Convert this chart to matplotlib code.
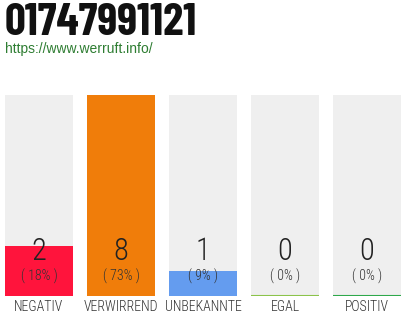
import matplotlib.pyplot as plt
from matplotlib import font_manager
import matplotlib.transforms as mtransforms

# data
categories = ['NEGATIV', 'VERWIRREND', 'UNBEKANNTE', 'EGAL', 'POSITIV']
counts = [2, 8, 1, 0, 0]
colors = ['#FF143C', '#F07D0A', '#649CEF', '#8BC34A', '#2EA84A']
title = '01747991121'
url = 'https://www.werruft.info/'

fonts = font_manager.fontManager.ttflist


def pick(cands, min_weight=0):
    for c in cands:
        for f in fonts:
            if f.name == c and int(f.weight) >= min_weight:
                return c
    return 'DejaVu Sans'


head_font = pick(['Oswald', 'Barlow Condensed', 'Roboto Condensed'], 700)
body_font = pick(['Roboto Condensed', 'Barlow Condensed', 'Archivo Narrow'])

total = sum(counts)
top = max(counts)

fig = plt.figure(figsize=(4.1, 3.2), dpi=100)
ax = fig.add_axes([5 / 410, 24 / 320, 396 / 410, 201 / 320])

w = 68 / 82
x = list(range(len(categories)))
ax.bar(x, [top] * len(x), width=w, color='#EFEFEF')
ax.bar(x, counts, width=w, color=colors)
for i, c in enumerate(counts):
    if c == 0:
        ax.hlines(0, i - w / 2, i + w / 2, color=colors[i], lw=1.5)

ax.set_xlim(-w / 2, len(x) - 1 + w / 2)
ax.set_ylim(0, top)
ax.axis('off')

tr = mtransforms.blended_transform_factory(ax.transData, ax.transAxes)
for i, c in enumerate(counts):
    pct = round(100 * c / total) if total else 0
    ax.text(i, 0.219, str(c), transform=tr, ha='center', va='center',
            fontsize=22, family=body_font, color='#222222', fontweight=300)
    ax.text(i, 0.10, '( %d%% )' % pct, transform=tr, ha='center', va='center',
            fontsize=10, family=body_font, color='#333333', fontweight=300)
    ax.text(i, -0.055, categories[i], transform=tr, ha='center', va='center',
            fontsize=10, family=body_font, color='#333333', fontweight=300)

fig.text(5 / 410, 1 - 23 / 320, title, ha='left', va='center', fontsize=33,
         family=head_font, fontweight='bold', color='#111111')
fig.text(5 / 410, 1 - 49 / 320, url, ha='left', va='center', fontsize=10,
         family='Liberation Sans', color='#2E7D32')

fig.savefig('out.png', dpi=100)
